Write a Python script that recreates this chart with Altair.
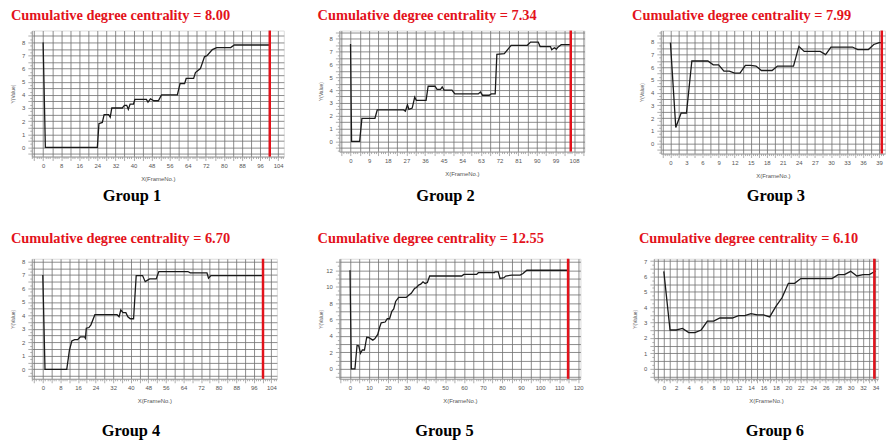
import altair as alt
import pandas as pd
import numpy as np

# ---------------- data ----------------
g1_x = [0, 1, 24, 24.7, 26.2, 27, 29, 29.7, 30.4, 35, 36, 37, 37.7, 38.5, 40, 40.6, 45.7, 46.4, 47.5, 49, 51,
        52.4, 59.4, 60.6, 62.6, 63.3, 66.6, 67.4, 69.6, 71.4, 72.6, 74.9, 76.8, 83, 84.6, 100]
g1_y = [8.0, 0, 0, 1.8, 1.9, 2.5, 2.5, 2.3, 3.0, 3.0, 3.2, 3.2, 2.9, 3.3, 3.3, 3.65, 3.65, 3.45, 3.7, 3.55, 3.55,
        4.0, 4.0, 4.85, 4.85, 5.25, 5.25, 5.7, 6.0, 6.9, 7.0, 7.45, 7.6, 7.6, 7.8, 7.8]

g2_x = [0, 0.5, 4.4, 5.5, 11.8, 12.9, 25.7, 26.5, 27.5, 28.2, 29.8, 31, 31.8, 36.5, 37.5, 40.8, 41.8, 43.5, 44.3,
        45.2, 49, 50.4, 61.7, 62.8, 63.8, 67, 68, 69.9, 70.7, 74.3, 77.6, 85.4, 87, 90.7, 91.6, 96.6, 97.2, 98.5,
        99.5, 100.2, 101.8, 106.4]
g2_y = [7.6, 0, 0, 1.8, 1.8, 2.45, 2.45, 2.35, 2.85, 2.5, 2.6, 3.45, 3.2, 3.2, 4.3, 4.3, 4.05, 4.05, 4.25,
        4.0, 4.0, 3.7, 3.7, 3.85, 3.6, 3.6, 3.7, 3.7, 6.8, 6.85, 7.5, 7.5, 7.75, 7.75, 7.4, 7.4, 7.15, 7.3,
        7.2, 7.35, 7.55, 7.55]

g3_x = [0, 1, 2, 3, 4, 5, 6, 7, 8, 9, 10, 11, 12, 13, 14, 15, 16, 17, 18, 19, 20, 21, 22, 23, 24, 25, 26, 27,
        28, 29, 30, 31, 32, 33, 34, 35, 36, 37, 38, 39, 39.5]
g3_y = [7.95, 1.25, 2.4, 2.4, 6.5, 6.5, 6.5, 6.5, 6.2, 6.2, 5.7, 5.7, 5.55, 5.55, 6.15, 6.15, 6.1, 5.75, 5.75,
        5.75, 6.1, 6.1, 6.1, 6.1, 7.65, 7.25, 7.25, 7.25, 7.25, 7.0, 7.6, 7.6, 7.6, 7.6, 7.6, 7.4, 7.4, 7.4,
        7.8, 7.95, 7.95]

g4_x = [0, 1, 10.9, 12.1, 13.2, 14.5, 15.9, 17, 19, 19.4, 19.8, 21, 21.9, 23.7, 33.8, 34.7, 35.5, 36.5, 37.8,
        38.7, 39.8, 41.3, 42.5, 45.4, 46.6, 48.6, 51.6, 52.8, 66, 67.1, 74.7, 75.4, 76.5, 100.2]
g4_y = [7.0, 0, 0, 1.4, 2.1, 2.2, 2.2, 2.4, 2.4, 2.3, 3.05, 3.1, 3.3, 4.05, 4.05, 3.9, 4.4, 4.2, 4.2,
        3.9, 3.75, 3.75, 6.95, 6.95, 6.5, 6.7, 6.7, 7.25, 7.25, 7.15, 7.15, 6.75, 6.95, 6.95]

g5_x = [0, 0.7, 2.6, 3.7, 4.6, 5.5, 6.5, 7.6, 8.8, 10, 12, 13, 14.6, 15.5, 16.4, 18.5, 19.6, 20.8, 22, 23,
        24, 25.6, 29.6, 31, 32.2, 34, 35, 36.1, 37.2, 38.4, 39.5, 40.7, 41.9, 58.7, 59.9, 66.6, 67.5, 76, 76.3,
        78, 78.9, 81, 81.9, 85.1, 89.5, 91, 93, 114.7]
g5_y = [12.0, 0, 0, 2.85, 2.8, 1.9, 2.3, 2.3, 3.85, 3.8, 3.5, 3.65, 4.2, 5.0, 5.6, 5.7, 6.1, 6.1, 7.0, 7.3,
        8.2, 8.7, 8.7, 9.0, 9.2, 9.8, 9.9, 10.2, 10.3, 10.6, 10.4, 10.5, 11.3, 11.3, 11.5, 11.5, 11.7, 11.7, 11.8,
        11.8, 11.0, 11.1, 11.3, 11.4, 11.4, 11.6, 12.0, 12.0]

g6_x = [0, 1, 2, 3, 4, 5, 6, 7, 8, 9, 10, 11, 12, 13, 14, 15, 16, 17, 18, 19, 20, 21, 22, 23, 24, 25, 26, 27,
        28, 29, 30, 31, 32, 33, 34]
g6_y = [6.33, 2.52, 2.52, 2.62, 2.35, 2.35, 2.52, 3.1, 3.1, 3.3, 3.3, 3.3, 3.45, 3.45, 3.58, 3.5, 3.5, 3.37,
        4.05, 4.63, 5.55, 5.55, 5.86, 5.86, 5.86, 5.86, 5.86, 5.86, 6.12, 6.12, 6.33, 6.03, 6.12, 6.12, 6.35]

red_lines = [100.3, 106.4, 39.5, 100.2, 114.7, 33.8]
titles = ["Cumulative degree centrality = 8.00", "Cumulative degree centrality = 7.34",
          "Cumulative degree centrality = 7.99", "Cumulative degree centrality = 6.70",
          "Cumulative degree centrality = 12.55", "Cumulative degree centrality = 6.10"]
captions = ["Group 1", "Group 2", "Group 3", "Group 4", "Group 5", "Group 6"]

SERIF = "Liberation Serif"
SANS = "Liberation Sans"


def grid_values(lo, hi, step):
    start = np.ceil(lo / step - 1e-9) * step
    return [round(float(v), 4) for v in np.arange(start, hi + 1e-9, step)]


def is_mult(step):
    return f"abs(datum.value/{step} - round(datum.value/{step})) < 0.0001"


def make_axis(dom, minor, grid, lab, title, is_x):
    return alt.Axis(
        values=grid_values(dom[0], dom[1], minor),
        labelExpr=f"{is_mult(lab)} ? format(datum.value, 'd') : ''",
        grid=True,
        gridColor="#6f6f6f",
        gridWidth=0.8,
        gridOpacity=alt.condition(is_mult(grid), alt.value(1), alt.value(0)),
        tickSize=alt.condition(is_mult(grid), alt.value(4), alt.value(2)),
        domain=True, domainColor="#9a9a9a",
        tickColor="#777", tickWidth=0.6,
        labelFontSize=6, labelColor="#555", labelFont=SANS,
        labelPadding=2 if is_x else 3,
        title=title, titleFontSize=6 if is_x else 5, titleFontWeight="normal",
        titleColor="#555", titleFont=SANS,
        titlePadding=7 if is_x else 4,
        labelOverlap=False, labelBound=False, labelFlush=False,
        **({} if is_x else {"minExtent": 12, "maxExtent": 12}),
    )


def panel(xs, ys, red, title, cap, xdom, xminor, xstep, xlab, ydom, yminor, ystep, ylab,
          w, h, tdx, toff, capx, capdy):
    df = pd.DataFrame({"x": xs, "y": ys})
    xaxis = make_axis(xdom, xminor, xstep, xlab, "X(FrameNo.)", True)
    yaxis = make_axis(ydom, yminor, ystep, ylab, "Y(Value)", False)
    xs_ = alt.Scale(domain=xdom, nice=False, zero=False)
    ys_ = alt.Scale(domain=ydom, nice=False, zero=False)
    line = alt.Chart(df).mark_line(color="#1a1a1a", strokeWidth=1.3).encode(
        x=alt.X("x:Q", scale=xs_, axis=xaxis),
        y=alt.Y("y:Q", scale=ys_, axis=yaxis),
    )
    rule = alt.Chart(pd.DataFrame({"x": [red]})).mark_rule(color="#e3121b", strokeWidth=2.5).encode(
        x=alt.X("x:Q", scale=xs_, axis=xaxis)
    )
    captext = alt.Chart(pd.DataFrame({"t": [cap]})).mark_text(
        font=SERIF, fontSize=16.5, fontWeight="bold", color="#000", baseline="middle", align="center"
    ).encode(x=alt.value(capx), y=alt.value(h + capdy), text="t:N")
    return alt.layer(line, rule, captext).properties(
        width=w, height=h,
        title=alt.Title(title, anchor="start", frame="bounds", font=SERIF, fontSize=14.5,
                        fontWeight="bold", color="#e3121b", offset=toff, dx=tdx),
    )


p1 = panel(g1_x, g1_y, red_lines[0], titles[0], captions[0], [-5, 106.5], 1, 4, 8,
           [-0.7, 8.9], 0.25, 0.5, 1, 254, 127, 0, 6, 101, 40)
p2 = panel(g2_x, g2_y, red_lines[1], titles[1], captions[1], [-5.4, 113], 1.125, 4.5, 9,
           [-0.8, 8.65], 0.25, 0.5, 1, 247, 122, -1, 6, 107, 45)
p3 = panel(g3_x, g3_y, red_lines[2], titles[2], captions[2], [-1.8, 40.1], 0.375, 1.5, 3,
           [-0.8, 8.9], 0.25, 0.5, 1, 226, 124, -8, 6, 116, 43)
p4 = panel(g4_x, g4_y, red_lines[3], titles[3], captions[3], [-5, 106.5], 1, 4, 8,
           [-0.7, 8.2], 0.25, 0.5, 1, 247, 121, 0, 11, 100, 53)
p5 = panel(g5_x, g5_y, red_lines[4], titles[4], captions[4], [-5.6, 121.2], 1.25, 5, 10,
           [-1.2, 13.4], 0.5, 1, 2, 243, 121, -1, 11, 106, 53)
p6 = panel(g6_x, g6_y, red_lines[5], titles[5], captions[5], [-1.6, 34.4], 0.25, 1, 2,
           [-0.65, 7.15], 0.25, 0.5, 1, 226, 121, 6, 11, 122, 53)

row1 = alt.hconcat(p1, alt.hconcat(p2, p3, spacing=46), spacing=32)
row2 = alt.hconcat(p4, alt.hconcat(p5, p6, spacing=48), spacing=39)

chart = alt.vconcat(row1, row2, spacing=25).properties(
    padding={"left": 2, "top": -3, "right": 0, "bottom": 0}
).configure_view(stroke="#9a9a9a", strokeWidth=1).configure(background="white")

chart.save("out.html", embed_options={"renderer": "svg", "actions": False})
